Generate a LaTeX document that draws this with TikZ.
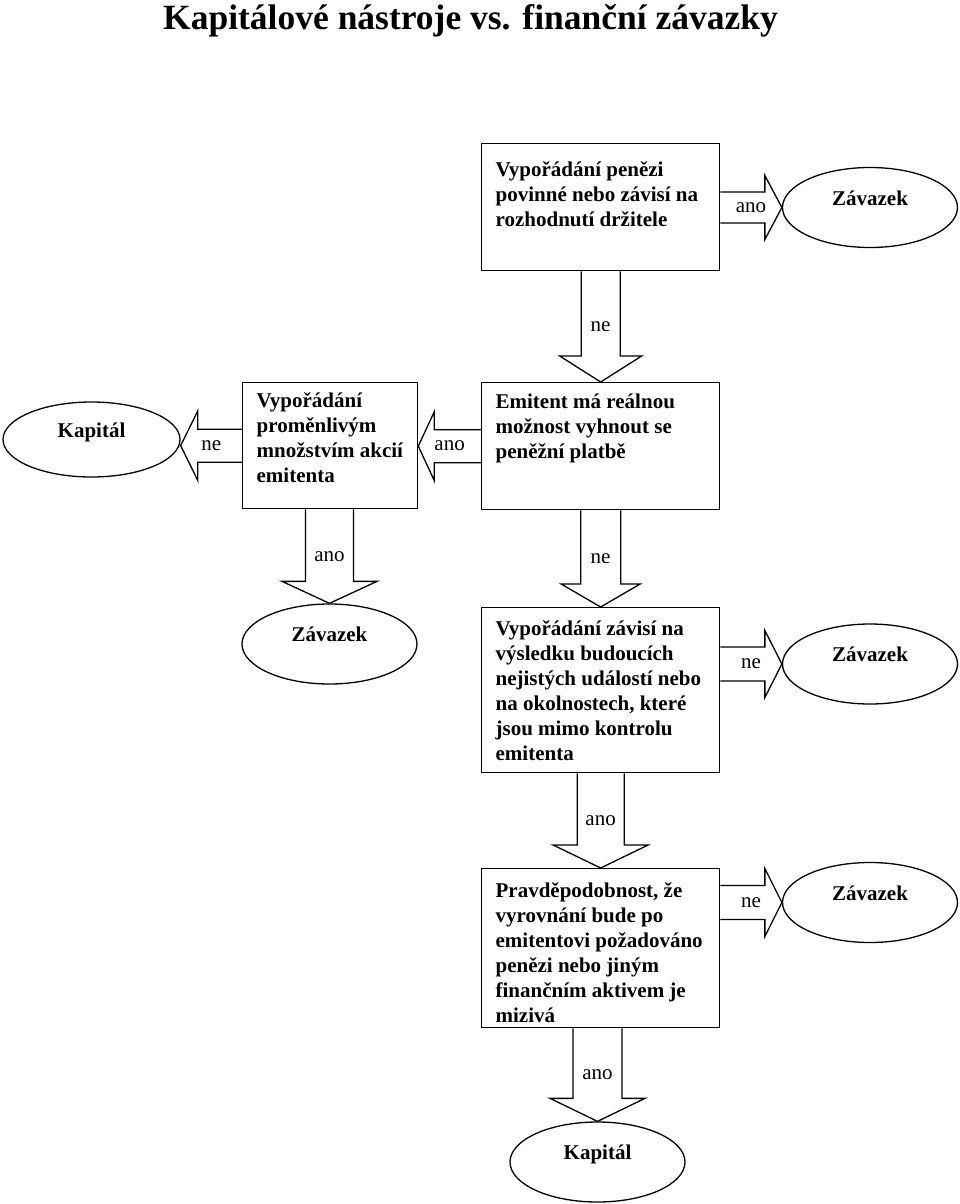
\documentclass[tikz,border=0pt]{standalone}
\usepackage{fontspec}
\setmainfont{Liberation Serif}
\usepackage{tikz}
\usetikzlibrary{shapes,calc,positioning}

% text of a question box: height, width, first baseline, lines
\newcommand{\qtext}[4]{\parbox[c][#1][t]{#2}{\raggedright\rule{0pt}{#3}#4}}
% block arrow: label name, start, end, shaft half width, head half width, head length, label
\newcommand{\blockarrow}[7]{%
  \path (#3) coordinate (tip) ($(#3)!#6!(#2)$) coordinate (neck);
  \draw[bigarrow] ($(#2)!#4!90:(#3)$) -- ($(neck)!#4!90:(tip)$) -- ($(neck)!#5!90:(tip)$)
    -- (tip) -- ($(neck)!#5!-90:(tip)$) -- ($(neck)!#4!-90:(tip)$) -- ($(#2)!#4!-90:(#3)$);
  \node[choice] (#1) at ($(#2)!0.5!(#3)$) {#7};
}

\tikzset{
  question/.style={draw, line width=1.3pt, rectangle, inner xsep=14pt, inner ysep=0pt,
    anchor=north west, font=\fontsize{21}{25}\selectfont\bfseries},
  outcome/.style={draw, line width=1.3pt, ellipse, minimum width=175pt, minimum height=80pt,
    inner sep=0pt, text height=14.5pt, text depth=19pt, font=\fontsize{21}{25}\selectfont\bfseries},
  choice/.style={inner sep=1pt, font=\fontsize{21}{25}\selectfont},
  bigarrow/.style={line width=1.3pt, line join=miter}
}

\begin{document}
\begin{tikzpicture}[x=1pt, y=-1pt]
\useasboundingbox (0,0) rectangle (960,1204);

\node[inner sep=0pt, anchor=base west, font=\fontsize{35.5}{40}\selectfont\bfseries] (title) at (163,30)
  {Kapitálové nástroje vs. finanční závazky};

% questions
\node[question] (q1) at (481,143) {\qtext{127pt}{210pt}{32.5pt}{Vypořádání penězi\\ povinné nebo závisí na\\ rozhodnutí držitele}};
\node[question] (q2) at (481,382) {\qtext{127pt}{210pt}{25.5pt}{Emitent má reálnou\\ možnost vyhnout se\\ peněžní platbě}};
\node[question] (q3) at (242,382) {\qtext{126pt}{147pt}{25pt}{Vypořádání\\ proměnlivým\\ množstvím akcií\\ emitenta}};
\node[question] (q4) at (481,607) {\qtext{165pt}{210pt}{28pt}{Vypořádání závisí na\\ výsledku budoucích\\ nejistých událostí nebo\\ na okolnostech, které\\ jsou mimo kontrolu\\ emitenta}};
\node[question] (q5) at (481,868) {\qtext{159pt}{210pt}{28.5pt}{Pravděpodobnost, že\\ vyrovnání bude po\\ emitentovi požadováno\\ penězi nebo jiným\\ finančním aktivem je\\ mizivá}};

% outcomes
\node[outcome] (e1) at (870,207.5) {Závazek};
\node[outcome, minimum width=177pt, minimum height=75pt] (k1) at (91.5,439.5) {Kapitál};
\node[outcome] (e2) at (329.5,644) {Závazek};
\node[outcome] (e3) at (870,664) {Závazek};
\node[outcome] (e4) at (870,902.5) {Závazek};
\node[outcome] (k2) at (597.5,1162) {Kapitál};

% arrows
\blockarrow{a1}{q1.east |- e1.west}{e1.west}{15.5pt}{32pt}{17pt}{ano}
\blockarrow{a2}{q1.south}{q2.north}{19.5pt}{41pt}{26pt}{ne}
\blockarrow{a3}{q3.west}{k1.east |- q3.west}{16.5pt}{34.5pt}{17pt}{ne}
\blockarrow{a4}{q2.west}{q3.east |- q2.west}{16.5pt}{34.5pt}{16pt}{ano}
\blockarrow{a5}{q3.south -| e2.north}{e2.north}{24pt}{47.5pt}{22pt}{ano}
\blockarrow{a6}{q2.south}{q4.north}{20pt}{39.5pt}{23pt}{ne}
\blockarrow{a7}{q4.east |- e3.west}{e3.west}{17pt}{33.5pt}{17pt}{ne}
\blockarrow{a8}{q4.south}{q5.north}{23.5pt}{47.5pt}{23pt}{ano}
\blockarrow{a9}{q5.east |- e4.west}{e4.west}{17pt}{34pt}{17pt}{ne}
\blockarrow{a10}{q5.south -| k2.north}{k2.north}{24.5pt}{47.5pt}{23pt}{ano}
\end{tikzpicture}
\end{document}
